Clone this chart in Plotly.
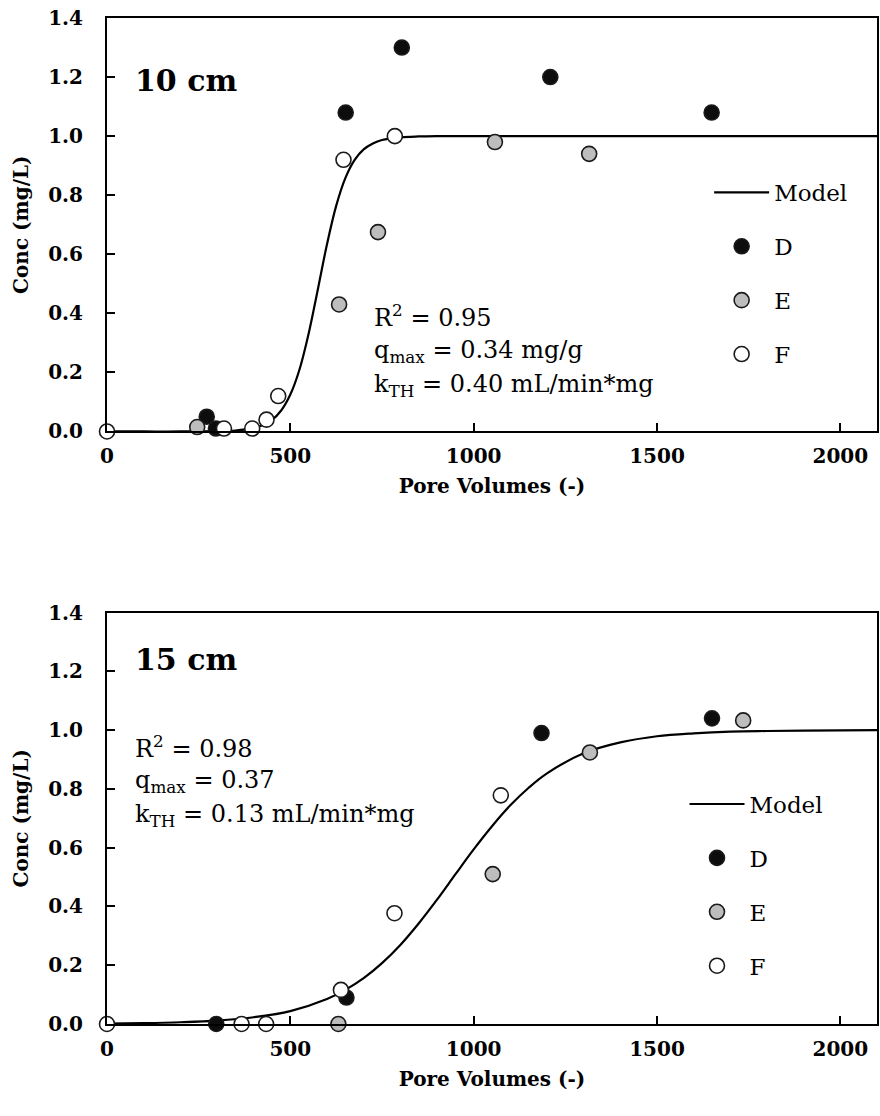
import plotly.graph_objects as go
from plotly.subplots import make_subplots

# ---- 10 cm column: measured breakthrough data (pore volumes, mg/L) ----
pv_d_10 = [272, 297, 651, 804, 1209, 1649]
c_d_10 = [0.05, 0.01, 1.08, 1.30, 1.20, 1.08]
pv_e_10 = [246, 633, 739, 1058, 1315]
c_e_10 = [0.015, 0.43, 0.675, 0.98, 0.94]
pv_f_10 = [0, 319, 396, 435, 467, 645, 785]
c_f_10 = [0.0, 0.01, 0.01, 0.04, 0.12, 0.92, 1.00]

# Thomas model curve, 10 cm
pv_model_10 = [0, 100, 200, 300, 350, 400, 425, 450, 475, 500, 525, 550, 575,
               600, 625, 650, 675, 700, 725, 750, 800, 850, 900, 1000, 1200,
               1500, 1800, 2100]
c_model_10 = [0.0, 0.0, 0.0, 0.001, 0.003, 0.012, 0.022, 0.039, 0.071, 0.125,
              0.21, 0.332, 0.481, 0.634, 0.764, 0.858, 0.919, 0.955, 0.975,
              0.987, 0.996, 0.999, 1.0, 1.0, 1.0, 1.0, 1.0, 1.0]

# ---- 15 cm column ----
pv_d_15 = [298, 653, 1185, 1650]
c_d_15 = [0.0, 0.09, 0.99, 1.04]
pv_e_15 = [631, 1052, 1317, 1735]
c_e_15 = [0.0, 0.51, 0.924, 1.033]
pv_f_15 = [0, 367, 434, 638, 784, 1074]
c_f_15 = [0.0, 0.0, 0.0, 0.116, 0.377, 0.778]

pv_model_15 = [0, 100, 200, 300, 400, 500, 600, 650, 700, 750, 800, 850, 900,
               950, 1000, 1050, 1100, 1150, 1200, 1300, 1400, 1500, 1600, 1700,
               1800, 2000, 2100]
c_model_15 = [0.0015, 0.003, 0.006, 0.0115, 0.023, 0.044, 0.085, 0.116, 0.156,
              0.207, 0.269, 0.342, 0.423, 0.509, 0.594, 0.673, 0.744, 0.804,
              0.853, 0.921, 0.958, 0.979, 0.989, 0.995, 0.997, 0.999, 1.0]

x_ticks = [0, 500, 1000, 1500, 2000]
y_ticks = [0.0, 0.2, 0.4, 0.6, 0.8, 1.0, 1.2, 1.4]

FONT = "DejaVu Serif"
INK = "#000000"

fig = make_subplots(rows=2, cols=1, vertical_spacing=0.18)

series = [
    (1, "legend", pv_model_10, c_model_10, pv_d_10, c_d_10, pv_e_10, c_e_10, pv_f_10, c_f_10),
    (2, "legend2", pv_model_15, c_model_15, pv_d_15, c_d_15, pv_e_15, c_e_15, pv_f_15, c_f_15),
]

for row, leg, mx, my, dx, dy, ex, ey, fx, fy in series:
    fig.add_trace(go.Scatter(
        x=mx, y=my, mode="lines", name="Model", legend=leg,
        legendgroup=f"m{row}", line=dict(color=INK, width=2.2, shape="spline"),
        hoverinfo="skip"), row=row, col=1)
    for name, xs, ys, fill in (("D", dx, dy, "#0d0d0d"),
                               ("E", ex, ey, "#bdbdbd"),
                               ("F", fx, fy, "#ffffff")):
        fig.add_trace(go.Scatter(
            x=xs, y=ys, mode="markers", name=name, legend=leg,
            legendgroup=f"{name}{row}", cliponaxis=False,
            marker=dict(size=15, color=fill, line=dict(color="#1a1a1a", width=1.6))),
            row=row, col=1)

axis_font = dict(family=FONT, size=20, color=INK, weight="bold")
title_font = dict(family=FONT, size=20, color=INK, weight="bold")

for row in (1, 2):
    fig.update_xaxes(
        range=[0, 2100], tickvals=x_ticks, ticks="inside", ticklen=8,
        tickwidth=1.5, tickcolor=INK, showline=True, linewidth=2,
        linecolor=INK, mirror=True, showgrid=False, zeroline=False,
        tickfont=axis_font, ticklabelstandoff=6,
        title=dict(text="Pore Volumes (-)", font=title_font, standoff=12),
        row=row, col=1)
    fig.update_yaxes(
        range=[0, 1.4], tickvals=y_ticks, tickformat=".1f", ticks="inside",
        ticklen=8, tickwidth=1.5, tickcolor=INK, showline=True, linewidth=2,
        linecolor=INK, mirror=True, showgrid=False, zeroline=False,
        tickfont=axis_font, ticklabelstandoff=18,
        title=dict(text="Conc (mg/L)", font=title_font, standoff=14),
        row=row, col=1)

fig.update_layout(
    xaxis=dict(domain=[0, 1]),
    yaxis=dict(domain=[0.589, 1.0]),
    yaxis2=dict(domain=[0.0, 0.409]),
)

label_font = dict(family=FONT, size=24, color=INK)
head_font = dict(family=FONT, size=30, color=INK, weight="bold")

annotations = [
    dict(xref="x", yref="y", x=72, y=1.19, text="10 cm", font=head_font),
    dict(xref="x", yref="y", x=722, y=0.39, text="R<sup>2</sup> = 0.95", font=label_font),
    dict(xref="x", yref="y", x=722, y=0.272, text="q<sub>max</sub> = 0.34 mg/g", font=label_font),
    dict(xref="x", yref="y", x=722, y=0.157, text="k<sub>TH</sub> = 0.40 mL/min*mg", font=label_font),
    dict(xref="x2", yref="y2", x=72, y=1.24, text="15 cm", font=head_font),
    dict(xref="x2", yref="y2", x=70, y=0.942, text="R<sup>2</sup> = 0.98", font=label_font),
    dict(xref="x2", yref="y2", x=70, y=0.825, text="q<sub>max</sub> = 0.37", font=label_font),
    dict(xref="x2", yref="y2", x=70, y=0.71, text="k<sub>TH</sub> = 0.13 mL/min*mg", font=label_font),
]
for a in annotations:
    a.update(showarrow=False, xanchor="left", yanchor="middle")

legend_style = dict(
    xref="paper", yref="paper", xanchor="left", yanchor="top",
    bgcolor="rgba(0,0,0,0)", borderwidth=0,
    font=dict(family=FONT, size=23, color=INK),
    tracegroupgap=21, itemwidth=55, traceorder="grouped",
)

fig.update_layout(
    width=880, height=1116,
    margin=dict(l=107, r=1, t=18, b=92),
    paper_bgcolor="white", plot_bgcolor="white",
    font=dict(family=FONT, color=INK),
    showlegend=True,
    legend=dict(x=0.782, y=0.848, **legend_style),
    legend2=dict(x=0.75, y=0.240, **legend_style),
    annotations=annotations,
)

fig.write_html("out.html")
